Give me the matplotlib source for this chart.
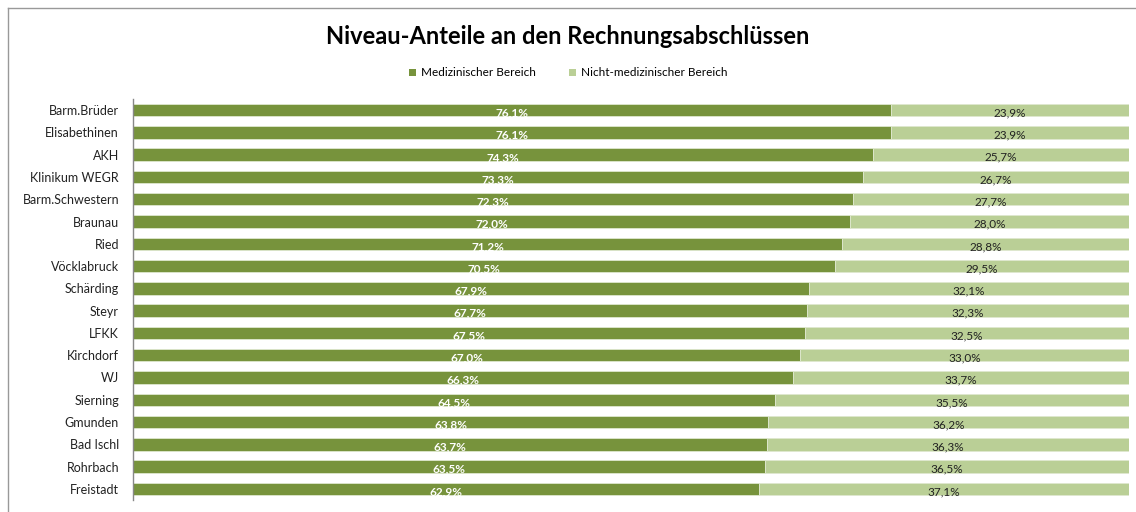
import matplotlib
matplotlib.use("Agg")
import matplotlib.pyplot as plt
from matplotlib.patches import Patch
from matplotlib.lines import Line2D

categories = ["Barm.Brüder", "Elisabethinen", "AKH", "Klinikum WEGR", "Barm.Schwestern",
              "Braunau", "Ried", "Vöcklabruck", "Schärding", "Steyr", "LFKK", "Kirchdorf",
              "WJ", "Sierning", "Gmunden", "Bad Ischl", "Rohrbach", "Freistadt"]
medical = [76.1, 76.1, 74.3, 73.3, 72.3, 72.0, 71.2, 70.5, 67.9, 67.7, 67.5, 67.0,
           66.3, 64.5, 63.8, 63.7, 63.5, 62.9]
nonmedical = [23.9, 23.9, 25.7, 26.7, 27.7, 28.0, 28.8, 29.5, 32.1, 32.3, 32.5, 33.0,
              33.7, 35.5, 36.2, 36.3, 36.5, 37.1]
series_names = ["Medizinischer Bereich", "Nicht-medizinischer Bereich"]
title = "Niveau-Anteile an den Rechnungsabschlüssen"

dark = "#77933C"
light = "#BACF96"
plt.rcParams['font.family'] = ['Lato', 'DejaVu Sans']

fig = plt.figure(figsize=(11.36, 5.12), dpi=100)
ax = fig.add_axes([133/1136, 1-500/512, (1129-133)/1136, (500-99)/512])

y = list(range(len(categories)))
ax.barh(y, medical, height=0.56, color=dark, edgecolor="#dfe8cf", linewidth=0.6)
ax.barh(y, nonmedical, left=medical, height=0.56, color=light, edgecolor="#dfe8cf", linewidth=0.6)

for i, (m, n) in enumerate(zip(medical, nonmedical)):
    ax.text(m/2, i + 0.12, f"{m:.1f}%".replace(".", ","), ha="center", va="center",
            color="white", fontsize=8.5, fontweight="bold")
    ax.text(m + n/2, i + 0.12, f"{n:.1f}%".replace(".", ","), ha="center", va="center",
            color="#222222", fontsize=8.5)

ax.set_xlim(0, 100)
ax.set_ylim(len(categories) - 0.5, -0.5)
ax.set_yticks(y)
ax.set_yticklabels(categories, fontsize=9, color="#222222")
ax.tick_params(axis="y", length=0, pad=10)
ax.set_xticks([])
for s in ["top", "right", "bottom"]:
    ax.spines[s].set_visible(False)
ax.spines["left"].set_color("#888888")
ax.spines["left"].set_linewidth(1)

fig.text(0.5, 1-37/512, title, ha="center", va="center", fontsize=17, fontweight="bold")
handles = [Patch(facecolor=dark), Patch(facecolor=light)]
fig.legend(handles, series_names, loc="center", bbox_to_anchor=(0.5, 1-73/512), ncol=2,
           frameon=False, fontsize=8.5, handlelength=0.6, handleheight=0.6,
           columnspacing=2.8, handletextpad=0.4)

# outer chart frame (left and top edges visible)
fig.add_artist(Line2D([8/1136, 8/1136], [0, 1-8/512], color="#999999", lw=1, transform=fig.transFigure))
fig.add_artist(Line2D([8/1136, 1], [1-8/512, 1-8/512], color="#999999", lw=1, transform=fig.transFigure))

fig.savefig("out.png", dpi=100)
